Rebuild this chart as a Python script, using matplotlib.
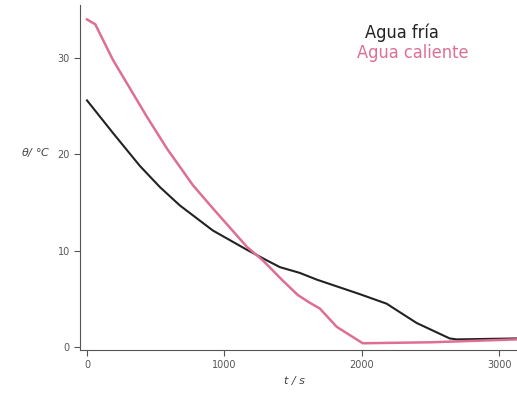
import numpy as np
import matplotlib
matplotlib.use('Agg')
from matplotlib import pyplot as plt

# valores
t_fria = [0, 190, 385, 531, 676, 916, 1164, 1309, 1404, 1549, 1673, 1985, 2182, 2225, 2400, 2640, 2691, 3130]
th_fria = [25.6, 22.2, 18.8, 16.6, 14.7, 12.1, 10.1, 9.0, 8.3, 7.7, 7.0, 5.5, 4.5, 4.1, 2.5, 0.9, 0.8, 0.9]

t_cal = [0, 60, 189, 436, 582, 771, 916, 1164, 1280, 1425, 1535, 1622, 1695, 1818, 2007, 2500, 3130]
th_cal = [34.0, 33.5, 29.8, 23.9, 20.6, 16.8, 14.4, 10.4, 9.0, 6.9, 5.4, 4.6, 4.0, 2.1, 0.4, 0.5, 0.8]

x_ticks = [0, 1000, 2000, 3000]
y_ticks = [0, 10, 20, 30]

fig = plt.figure(figsize=(5.17, 4.0), dpi=100)
ax = fig.add_axes([0.155, 0.125, 0.845, 0.8625])

ax.plot(t_fria, th_fria, color='#222222', lw=1.5)
ax.plot(t_cal, th_cal, color='#dd6f94', lw=1.8)

ax.set_xlim(-50, 3130)
ax.set_ylim(-0.3, 35.5)
ax.set_xticks(x_ticks)
ax.set_yticks(y_ticks)
for s in ['top', 'right']:
    ax.spines[s].set_visible(False)
for s in ['left', 'bottom']:
    ax.spines[s].set_color('#555555')
ax.tick_params(labelsize=7, colors='#555555', length=4)

fig.text(0.04, 0.61, r'$\theta$/ °C', fontsize=8, color='#444444', style='italic')
fig.text(0.55, 0.04, 't / s', fontsize=8, color='#444444', style='italic')

fig.text(0.706, 0.905, 'Agua fría', fontsize=13, color='#222222',
         family='DejaVu Sans', fontstretch='condensed')
fig.text(0.69, 0.855, 'Agua caliente', fontsize=13, color='#dd6f94',
         family='DejaVu Sans', fontstretch='condensed')

plt.savefig('out.png', dpi=100)
